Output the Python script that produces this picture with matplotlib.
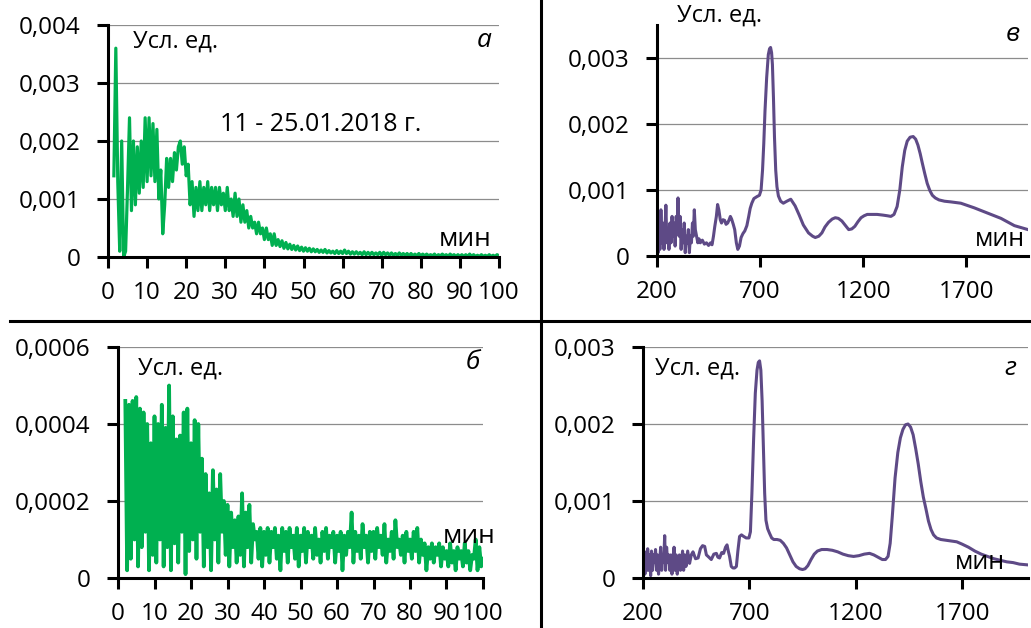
import numpy as np
import matplotlib
matplotlib.use('Agg')
import matplotlib.pyplot as plt

plt.rcParams['font.family'] = ['Open Sans', 'DejaVu Sans']

# ---- panel a: 11 - 25.01.2018, minutes 1.5 .. 100 step 0.5
a_x = np.arange(1.5, 100.01, 0.5)
a_y = [
    0.0014, 0.0036, 0.0013, 0.0001, 0.0020, 0.0000, 0.0001, 0.0012, 0.0024, 0.0008, 0.0020, 0.0009, 0.0019, 0.0011, 0.0020, 0.0012, 0.0024, 0.0013,
    0.0024, 0.0014, 0.0023, 0.0013, 0.0022, 0.0010, 0.0015, 0.0004, 0.0009, 0.0017, 0.0012, 0.0017, 0.0013, 0.0018, 0.0015, 0.0019, 0.0020, 0.0016, 0.0019, 0.0014,
    0.0016, 0.0009, 0.0013, 0.0007, 0.0012, 0.0008, 0.0013, 0.0008, 0.0012, 0.0009, 0.0013, 0.0008, 0.0012, 0.0009, 0.0012, 0.0008, 0.0012, 0.0009, 0.0011, 0.0008,
    0.0012, 0.0008, 0.0010, 0.0007, 0.0011, 0.0007, 0.0010, 0.0006, 0.0009, 0.0006, 0.0008, 0.0005, 0.0007, 0.0005, 0.0006, 0.0004, 0.0006, 0.0004, 0.0005, 0.0003,
    0.0005, 0.0003, 0.0004, 0.0002, 0.0004, 0.0002, 0.0003, 0.00018, 0.00028, 0.00015, 0.00025, 0.00014, 0.00022, 0.00013, 0.0002, 0.00012, 0.00019, 0.00011, 0.00017, 0.0001,
    0.00016, 0.0001, 0.00015, 0.00009, 0.00014, 0.00009, 0.00013, 0.00008, 0.00012, 0.00008, 0.00013, 0.00007, 0.00011, 0.00007, 0.0001, 0.00006, 0.00011, 0.00006, 0.0001, 0.00006,
    0.00012, 0.00006, 0.0001, 0.00005, 0.00009, 0.00005, 0.00009, 0.00005, 0.00008, 0.00004, 0.00009, 0.00004, 0.00008, 0.00004, 0.00008, 0.00004, 0.00007, 0.00004, 0.00008, 0.00003,
    0.00008, 0.00004, 0.00007, 0.00003, 0.00007, 0.00003, 0.00006, 0.00003, 0.00007, 0.00003, 0.00006, 0.00003, 0.00006, 0.00002, 0.00006, 0.00002, 0.00005, 0.00002, 0.00006, 0.00002,
    0.00005, 0.00002, 0.00005, 0.00002, 0.00004, 0.00002, 0.00005, 0.00001, 0.00004, 0.00002, 0.00005, 0.00002, 0.00004, 0.00001, 0.00005, 0.00002, 0.00004, 0.00001, 0.00004, 0.00001,
    0.00004, 0.00001, 0.00004, 0.00001, 0.00005, 0.00001, 0.00004, 0.00001, 0.00003, 0.00001, 0.00004, 0.00001, 0.00003, 0.00001, 0.00004, 0.00001, 0.00003, 0.00001, 0.00004, 0.00002,
]

# ---- panel б: minutes 2 .. 100 step 0.5
b_x = np.arange(2, 100.01, 0.5)
b_y = [
    0.00046, 0.00002, 0.00045, 0.00005, 0.00046, 0.0001, 0.00047, 0.00003, 0.00044, 0.00008, 0.00043, 0.00012, 0.00040, 0.00002, 0.00035, 0.00006, 0.00042,
    0.00004, 0.00040, 0.00010, 0.00045, 0.00003, 0.00039, 0.00008, 0.00050, 0.00002, 0.00042, 0.00009, 0.00036, 0.00004, 0.00037, 0.00012, 0.00043, 0.00001, 0.00044, 0.00007, 0.00035,
    0.00010, 0.00041, 0.00005, 0.00040, 0.00012, 0.00031, 0.00003, 0.00027, 0.00008, 0.00022, 0.00002, 0.00028, 0.00010, 0.00023, 0.00004, 0.00027, 0.00012, 0.00020, 0.00006, 0.00019,
    0.00003, 0.00017, 0.00008, 0.00015, 0.00004, 0.00016, 0.00006, 0.00022, 0.00003, 0.00017, 0.00008, 0.00019, 0.00004, 0.00014, 0.00010, 0.00012, 0.00005, 0.00013, 0.00003, 0.00012,
    0.00006, 0.00013, 0.00004, 0.00012, 0.00008, 0.00013, 0.00005, 0.00011, 0.00002, 0.00013, 0.00007, 0.00012, 0.00004, 0.00013, 0.00008, 0.00011, 0.00005, 0.00013, 0.00003, 0.00011,
    0.00007, 0.00013, 0.00004, 0.00012, 0.00008, 0.00011, 0.00005, 0.00013, 0.00006, 0.00010, 0.00004, 0.00012, 0.00007, 0.00013, 0.00005, 0.00011, 0.00008, 0.00012, 0.00004, 0.00011,
    0.00007, 0.00012, 0.00002, 0.00011, 0.00006, 0.00012, 0.00008, 0.00017, 0.00004, 0.00012, 0.00007, 0.00011, 0.00005, 0.00014, 0.00008, 0.00011, 0.00004, 0.00012, 0.00007, 0.00012,
    0.00005, 0.00013, 0.00008, 0.00011, 0.00006, 0.00014, 0.00004, 0.00010, 0.00007, 0.00012, 0.00005, 0.00015, 0.00008, 0.00010, 0.00006, 0.00011, 0.00004, 0.00012, 0.00007, 0.00010,
    0.00005, 0.00012, 0.00007, 0.00013, 0.00004, 0.00010, 0.00006, 0.00009, 0.00002, 0.00008, 0.00005, 0.00009, 0.00004, 0.00008, 0.00006, 0.00009, 0.00003, 0.00008, 0.00005, 0.00007,
    0.00003, 0.00009, 0.00004, 0.00007, 0.00002, 0.00008, 0.00005, 0.00007, 0.00003, 0.00009, 0.00004, 0.00007, 0.00002, 0.00006, 0.00005, 0.00010, 0.00002, 0.00008, 0.00003, 0.00005,
]

# ---- panel в: minutes 200 .. 2000
v_x = [200, 205, 210, 214, 219, 224, 229, 234, 239, 243, 248, 253, 258, 263, 268, 273, 278, 283, 288, 293,
       298, 302, 307, 312, 317, 322, 327, 332, 337, 342, 347, 352, 357, 362, 367, 372, 376, 381, 386, 392,
       398, 404, 410, 420, 430, 440, 450, 460, 467, 474, 480, 488, 494, 500, 507, 513, 520, 528, 535, 543,
       550, 556, 562, 570, 577, 585, 592, 600, 608, 617, 626, 636, 645, 652, 660, 670, 685, 697, 705, 712,
       718, 724, 732, 740, 746, 751, 756, 760, 765, 770, 776, 782, 789, 800, 813, 830, 849, 870, 890, 910,
       935, 955, 968, 985, 1000, 1015, 1032, 1050, 1065, 1080, 1097, 1115, 1130, 1145, 1160, 1175, 1190, 1205, 1220, 1245,
       1268, 1295, 1317, 1335, 1350, 1365, 1378, 1390, 1402, 1414, 1428, 1443, 1455, 1466, 1477, 1487, 1499, 1511, 1524, 1536,
       1550, 1568, 1595, 1625, 1674, 1739, 1804, 1869, 1934, 2000]
v_y = [0.0003, 0.00005, 0.0006, 0.0001, 0.0007, 0.0002, 0.0005, 0.0001, 0.0004, 0.00077, 0.0002, 0.0004, 0.0001, 0.0005, 0.0002, 0.0006, 0.0003, 0.0005, 0.00015, 0.0006,
       0.0004, 0.00088, 0.0003, 0.0006, 0.0001, 0.0004, 0.0002, 0.0005, 0.00005, 0.0003, 0.0002, 0.0004, 0.00005, 0.0003, 0.0002, 0.0005, 0.0003, 0.0007, 0.0004, 0.0003,
       0.0002, 0.00026, 0.0002, 0.00024, 0.00018, 0.0002, 0.00016, 0.0002, 0.00017, 0.0003, 0.00044, 0.0006, 0.00078, 0.0007, 0.00055, 0.0005, 0.00055, 0.00054, 0.00048, 0.0005,
       0.00055, 0.0006, 0.00056, 0.00048, 0.0004, 0.0002, 0.0001, 0.00015, 0.00028, 0.00034, 0.00038, 0.00046, 0.0006, 0.00072, 0.0008, 0.00087, 0.0009, 0.00092, 0.001, 0.0013,
       0.0017, 0.0022, 0.0027, 0.00305, 0.00314, 0.00316, 0.00308, 0.0029, 0.0024, 0.0018, 0.0013, 0.00105, 0.00091, 0.00083, 0.0008, 0.00083, 0.00086, 0.00076, 0.00062, 0.00047,
       0.00035, 0.0003, 0.00028, 0.0003, 0.00035, 0.00044, 0.00051, 0.00056, 0.00058, 0.00057, 0.00053, 0.00046, 0.0004, 0.00041, 0.00045, 0.00052, 0.00058, 0.00061, 0.00063, 0.00063,
       0.00063, 0.00062, 0.00061, 0.0006, 0.00063, 0.00075, 0.001, 0.00135, 0.0016, 0.00174, 0.0018, 0.00181, 0.00177, 0.00168, 0.00155, 0.00141, 0.00125, 0.0011, 0.00099, 0.00092,
       0.00088, 0.00085, 0.00083, 0.00082, 0.0008, 0.00073, 0.00065, 0.00057, 0.00046, 0.0004]

# ---- panel г: minutes 200 .. 2010
g_x = [200, 205, 209, 213, 218, 222, 227, 231, 236, 240, 245, 250, 254, 259, 264, 268, 273, 278, 283, 288,
       292, 297, 302, 306, 311, 316, 321, 326, 331, 336, 341, 346, 351, 356, 361, 366, 371, 376, 381, 386,
       391, 396, 402, 410, 419, 427, 435, 447, 459, 470, 480, 490, 498, 506, 521, 533, 545, 552, 560, 570,
       579, 588, 595, 601, 607, 615, 623, 631, 639, 646, 654, 663, 673, 685, 698, 705, 712, 720, 728, 736,
       742, 748, 754, 760, 766, 772, 778, 786, 795, 805, 815, 830, 845, 860, 875, 890, 905, 920, 936, 950,
       962, 975, 990, 1005, 1020, 1040, 1065, 1090, 1115, 1140, 1165, 1190, 1215, 1240, 1265, 1285, 1305, 1325, 1340, 1352,
       1362, 1372, 1385, 1398, 1410, 1422, 1434, 1446, 1458, 1470, 1482, 1494, 1506, 1518, 1530, 1542, 1554, 1566, 1580, 1600,
       1625, 1650, 1675, 1700, 1730, 1760, 1790, 1820, 1850, 1880, 1910, 1940, 1970, 2010]
g_y = [0.0002, 0.00035, 0.00005, 0.0003, 0.0001, 0.00038, 0.0001, 0.0003, 0.00003, 0.00035, 0.0001, 0.0003, 0.0002, 0.00037, 0.0001, 0.0003, 0.00005, 0.0002, 0.0004, 0.0001,
       0.0003, 0.0002, 0.00055, 0.0001, 0.0004, 0.0002, 0.0003, 0.0001, 0.0003, 0.00005, 0.0002, 0.0004, 0.0001, 0.0003, 0.00005, 0.0002, 0.0003, 0.0001, 0.0002, 0.00035,
       0.0001, 0.0003, 0.00015, 0.00035, 0.00019, 0.0003, 0.00034, 0.00025, 0.00026, 0.00038, 0.00042, 0.00041, 0.0003, 0.00028, 0.00024, 0.00031, 0.00032, 0.00027, 0.00026, 0.00033,
       0.00032, 0.0004, 0.00043, 0.00035, 0.00028, 0.00015, 0.00013, 0.00013, 0.00015, 0.00035, 0.00054, 0.00056, 0.00054, 0.00052, 0.00052, 0.0006, 0.0011, 0.0018, 0.0024, 0.0027,
       0.0028, 0.00282, 0.0027, 0.0023, 0.0017, 0.0011, 0.00075, 0.00064, 0.00058, 0.00052, 0.0005, 0.0005, 0.00049, 0.00045, 0.00039, 0.0003, 0.00021, 0.00015, 0.00012, 0.00011,
       0.00012, 0.00016, 0.00024, 0.00031, 0.00035, 0.00037, 0.00037, 0.00036, 0.00034, 0.00031, 0.00029, 0.00028, 0.00029, 0.00031, 0.00032, 0.0003, 0.00027, 0.00024, 0.00024, 0.00028,
       0.00045, 0.0008, 0.0013, 0.00163, 0.00182, 0.00193, 0.00199, 0.002, 0.00196, 0.00186, 0.00168, 0.00148, 0.00125, 0.00105, 0.0009, 0.00074, 0.00063, 0.00056, 0.00052, 0.0005,
       0.00049, 0.00048, 0.00047, 0.00044, 0.0004, 0.00035, 0.00031, 0.00028, 0.00025, 0.00023, 0.00021, 0.0002, 0.00018, 0.00017]

min_ticks = [0, 10, 20, 30, 40, 50, 60, 70, 80, 90, 100]
long_ticks = [200, 700, 1200, 1700]
a_yticks = [0, 0.001, 0.002, 0.003, 0.004]
a_ylabels = ['0', '0,001', '0,002', '0,003', '0,004']
b_yticks = [0, 0.0002, 0.0004, 0.0006]
b_ylabels = ['0', '0,0002', '0,0004', '0,0006']
vg_yticks = [0, 0.001, 0.002, 0.003]
vg_ylabels = ['0', '0,001', '0,002', '0,003']

green = '#00B050'
purple = '#5E4A86'

fig = plt.figure(figsize=(10.31, 6.28), dpi=100)
W, H = 1031.0, 628.0

def make_ax(l, r, t, b):
    ax = fig.add_axes([l / W, 1 - b / H, (r - l) / W, (b - t) / H])
    for s in ['top', 'right']:
        ax.spines[s].set_visible(False)
    for s in ['left', 'bottom']:
        ax.spines[s].set_linewidth(2.2)
        ax.spines[s].set_color('black')
    ax.tick_params(direction='out', length=8, width=2.2, labelsize=17.5, colors='black')
    ax.tick_params(axis='y', pad=12)
    ax.tick_params(axis='x', pad=9)
    ax.yaxis.grid(True, color='#8c8c8c', lw=0.9)
    ax.set_axisbelow(True)
    return ax

def labels(ax, ux, uy, lx, ly, letter, mx, my, ms=19):
    ax.text(ux, uy, 'Усл. ед.', transform=ax.transAxes, fontsize=17, ha='left', va='center')
    ax.text(lx, ly, letter, transform=ax.transAxes, fontsize=19, style='italic', ha='right', va='center')
    ax.text(mx, my, 'мин', transform=ax.transAxes, fontsize=ms, ha='right', va='center')

# a
ax = make_ax(108, 499, 25, 257)
ax.plot(a_x, a_y, color=green, lw=2.3)
ax.set_xlim(0, 100)
ax.set_ylim(0, 0.004)
ax.set_xticks(min_ticks)
ax.set_yticks(a_yticks)
ax.set_yticklabels(a_ylabels)
labels(ax, 0.064, 0.93, 0.982, 0.935, 'а', 0.982, 0.075)
ax.text(0.286, 0.573, '11 - 25.01.2018 г.', transform=ax.transAxes, fontsize=18, ha='left', va='center')

# б
ax = make_ax(118, 483, 347, 578)
ax.plot(b_x, b_y, color=green, lw=2.7)
ax.set_xlim(0, 100)
ax.set_ylim(0, 0.0006)
ax.set_xticks(min_ticks)
ax.set_yticks(b_yticks)
ax.set_yticklabels(b_ylabels)
labels(ax, 0.055, 0.905, 0.992, 0.935, 'б', 1.033, 0.18)

# в
ax = make_ax(657, 1028, 25, 256)
ax.plot(v_x, v_y, color=purple, lw=2.2)
ax.set_xlim(200, 2000)
ax.set_ylim(0, 0.0035)
ax.set_xticks(long_ticks)
ax.set_yticks(vg_yticks)
ax.set_yticklabels(vg_ylabels)
labels(ax, 0.054, 1.04, 0.978, 0.957, 'в', 0.992, 0.07, ms=18)

# г
ax = make_ax(643, 1028, 347, 578)
ax.plot(g_x, g_y, color=purple, lw=2.2)
ax.set_xlim(200, 2010)
ax.set_ylim(0, 0.003)
ax.set_xticks(long_ticks)
ax.set_yticks(vg_yticks)
ax.set_yticklabels(vg_ylabels)
labels(ax, 0.031, 0.905, 0.971, 0.905, 'г', 0.94, 0.065, ms=18)

# panel separators
fig.add_artist(plt.Line2D([541 / W, 541 / W], [0, 1], color='black', lw=2.2))
fig.add_artist(plt.Line2D([10 / W, 1], [1 - 321 / H, 1 - 321 / H], color='black', lw=2.2))

fig.savefig('out.png', dpi=100)
